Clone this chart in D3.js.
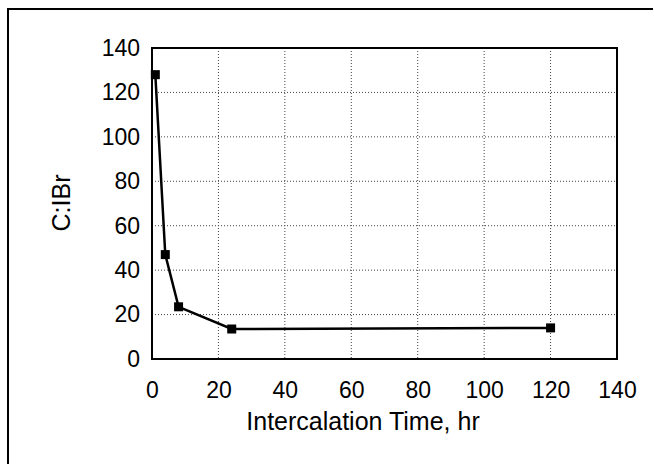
<!DOCTYPE html>
<html lang="en">
<head>
<meta charset="UTF-8">
<title>C:IBr vs intercalation time</title>
<style>
  body { margin: 0; background: #fff; }
  text { font-family: "Liberation Sans", Arial, sans-serif; fill: #000; }
</style>
</head>
<body>
<script src="https://cdn.jsdelivr.net/npm/d3@7"></script>
<script>
// data
var hours = [1, 4, 8, 24, 120];
var ratio = [128, 47, 23.5, 13.5, 14];
var xTicks = [0, 20, 40, 60, 80, 100, 120, 140];
var yTicks = [0, 20, 40, 60, 80, 100, 120, 140];

var width = 654, height = 464;
var pLeft = 152, pRight = 617, pTop = 48, pBottom = 359;
var tickFs = 23, titleFs = 25;

var svg = d3.select('body').append('svg').attr('width', width).attr('height', height);

// outer frame (only top and left edges show in the picture)
svg.append('path').attr('d', 'M8,470 V9 H653').attr('fill', 'none').attr('stroke', '#000').attr('stroke-width', 2);

var x = d3.scaleLinear().domain([0, 140]).range([pLeft, pRight]);
var y = d3.scaleLinear().domain([0, 140]).range([pBottom, pTop]);

// grid
var grid = svg.append('g').attr('stroke', '#444').attr('stroke-width', 1).attr('stroke-dasharray', '1,2');
grid.selectAll('.gx').data(xTicks.slice(1, -1)).enter().append('line')
    .attr('x1', function(d){ return x(d) }).attr('x2', function(d){ return x(d) })
    .attr('y1', pTop).attr('y2', pBottom);
grid.selectAll('.gy').data(yTicks.slice(1, -1)).enter().append('line')
    .attr('y1', function(d){ return y(d) }).attr('y2', function(d){ return y(d) })
    .attr('x1', pLeft).attr('x2', pRight);

// plot frame
svg.append('rect').attr('x', pLeft).attr('y', pTop).attr('width', pRight - pLeft).attr('height', pBottom - pTop)
    .attr('fill', 'none').attr('stroke', '#000').attr('stroke-width', 2);

// axes (labels only)
var xAxis = svg.append('g').attr('transform', 'translate(0,' + pBottom + ')')
    .call(d3.axisBottom(x).tickValues(xTicks).tickSize(0).tickPadding(23));
var yAxis = svg.append('g').attr('transform', 'translate(' + pLeft + ',0)')
    .call(d3.axisLeft(y).tickValues(yTicks).tickSize(0).tickPadding(12));
[xAxis, yAxis].forEach(function(a){
    a.select('.domain').remove();
    a.selectAll('text').attr('font-size', tickFs).attr('font-family', '"Liberation Sans", Arial, sans-serif').attr('fill', '#000');
});

// series
var pts = hours.map(function(h, i){ return [h, ratio[i]] });
svg.append('path').datum(pts)
    .attr('d', d3.line().x(function(d){ return x(d[0]) }).y(function(d){ return y(d[1]) }))
    .attr('fill', 'none').attr('stroke', '#000').attr('stroke-width', 2.5);
svg.selectAll('.pt').data(pts).enter().append('rect')
    .attr('x', function(d){ return x(d[0]) - 4.5 }).attr('y', function(d){ return y(d[1]) - 4.5 })
    .attr('width', 9).attr('height', 9).attr('fill', '#000');

// titles
svg.append('text').attr('x', 363).attr('y', 430).attr('text-anchor', 'middle')
    .attr('font-size', titleFs).text('Intercalation Time, hr');
svg.append('text').attr('transform', 'translate(70,203) rotate(-90)')
    .attr('text-anchor', 'middle').attr('font-size', titleFs).text('C:IBr');
</script>
</body>
</html>
